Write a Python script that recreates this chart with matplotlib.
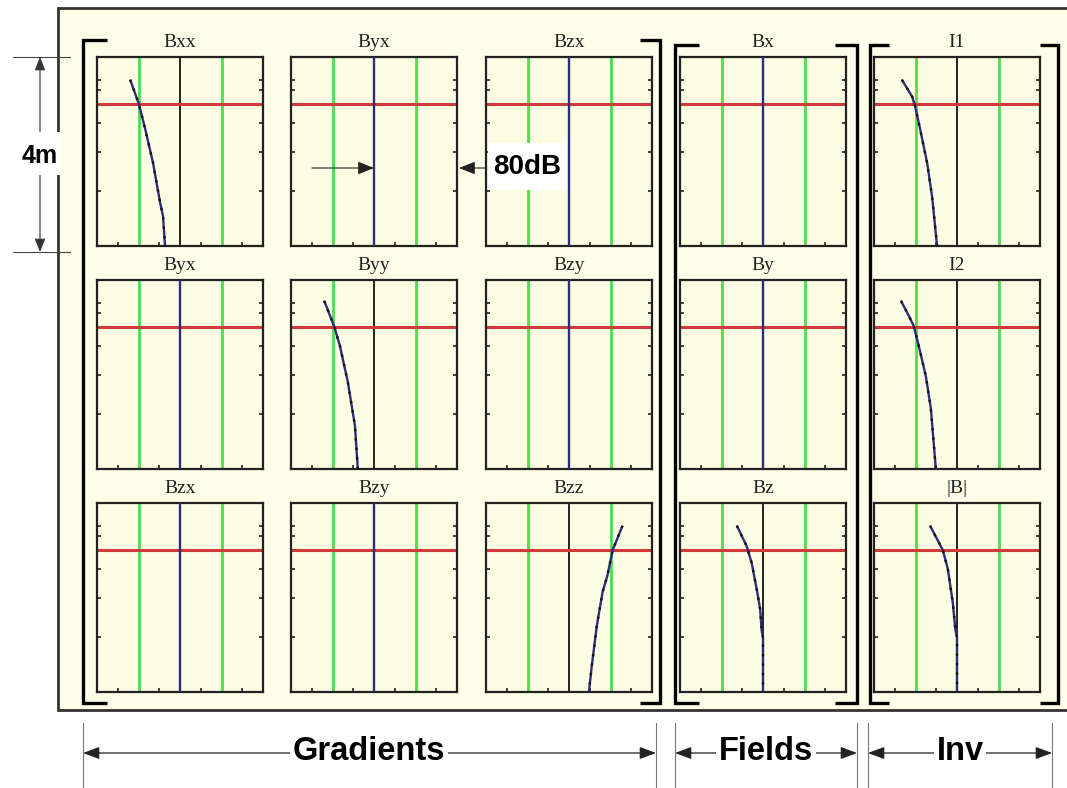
import matplotlib
matplotlib.use("Agg")
import matplotlib.pyplot as plt
from matplotlib.patches import Rectangle

# ---------------- data ----------------
titles_row1 = ["Bxx", "Byx", "Bzx", "Bx", "I1"]
titles_row2 = ["Byx", "Byy", "Bzy", "By", "I2"]
titles_row3 = ["Bzx", "Bzy", "Bzz", "Bz", "|B|"]

group_labels = ["Gradients", "Fields", "Inv"]
scale_label = "80dB"
depth_label = "4m"

# response curves (x: normalised response, -2..2 ; y: height fraction 0..1)
bxx_x = [-1.20, -0.99, -0.84, -0.65, -0.48, -0.41, -0.36]
bxx_y = [0.88, 0.75, 0.62, 0.44, 0.23, 0.16, 0.0]
byy_x = [-1.20, -0.96, -0.82, -0.63, -0.46, -0.39]
byy_y = [0.89, 0.755, 0.65, 0.46, 0.23, 0.0]
bzz_x = [1.29, 1.05, 0.93, 0.81, 0.67, 0.55, 0.48]
bzz_y = [0.88, 0.75, 0.62, 0.53, 0.35, 0.14, 0.0]
bz_x = [-0.63, -0.39, -0.27, -0.14, -0.07, -0.03, 0.0, 0.0]
bz_y = [0.88, 0.77, 0.68, 0.53, 0.44, 0.32, 0.29, 0.0]
bmag_x = [-0.65, -0.34, -0.22, -0.10, -0.04, 0.0, 0.0]
bmag_y = [0.88, 0.75, 0.65, 0.47, 0.33, 0.29, 0.0]
i1_x = [-1.33, -1.08, -1.01, -0.89, -0.72, -0.60, -0.48]
i1_y = [0.88, 0.79, 0.74, 0.62, 0.44, 0.26, 0.0]
i2_x = [-1.35, -1.16, -1.04, -0.92, -0.75, -0.63, -0.51]
i2_y = [0.89, 0.81, 0.755, 0.65, 0.49, 0.32, 0.0]
zero_x = [0.0, 0.0]
zero_y = [0.0, 1.0]

threshold_levels = [-1.0, 1.0]      # green lines
red_level = 0.75                    # red line
ytick_vals = [0.29, 0.50, 0.65, 0.825, 0.88]
xtick_vals = [-1.5, -0.5, 0.5, 1.5]

curves = [
    [(bxx_x, bxx_y), (zero_x, zero_y), (zero_x, zero_y), (zero_x, zero_y), (i1_x, i1_y)],
    [(zero_x, zero_y), (byy_x, byy_y), (zero_x, zero_y), (zero_x, zero_y), (i2_x, i2_y)],
    [(zero_x, zero_y), (zero_x, zero_y), (bzz_x, bzz_y), (bz_x, bz_y), (bmag_x, bmag_y)],
]
titles = [titles_row1, titles_row2, titles_row3]

# ---------------- layout (pixels) ----------------
W, H = 1067, 788
col_left = [97, 291, 486, 680, 874]
row_top = [57, 280, 503]
pw, ph = 166, 189

fig = plt.figure(figsize=(W / 100, H / 100), dpi=100)
fig.patch.set_facecolor("white")

bg = fig.add_axes([0, 0, 1, 1], zorder=0)
bg.set_xlim(0, W); bg.set_ylim(H, 0); bg.axis("off")
fg = fig.add_axes([0, 0, 1, 1], zorder=10)
fg.set_xlim(0, W); fg.set_ylim(H, 0); fg.axis("off")
fg.patch.set_alpha(0)

# outer frame
bg.add_patch(Rectangle((58, 8), 1100, 702, facecolor="#fefee9", edgecolor="#333333", lw=2))

NAVY = "#2d2d78"
GREEN = "#4ddd4d"
RED = "#d03a3a"

for r in range(3):
    for c in range(5):
        L, T = col_left[c], row_top[r]
        ax = fig.add_axes([L / W, 1 - (T + ph) / H, pw / W, ph / H], zorder=5)
        ax.set_facecolor("#fdfde4")
        ax.set_xlim(-2, 2); ax.set_ylim(0, 1)
        for s in ax.spines.values():
            s.set_linewidth(1.6); s.set_color("#222222")
        ax.set_xticks(xtick_vals); ax.set_yticks(ytick_vals)
        ax.tick_params(axis="both", direction="in", length=3, width=1.2, color="#222222",
                       left=True, right=True, bottom=True, top=False,
                       labelleft=False, labelbottom=False)
        for g in threshold_levels:
            ax.axvline(g, color=GREEN, lw=2, zorder=1)
        ax.axvline(0, color="#222222", lw=1.4, zorder=1)
        ax.axhline(red_level, color=RED, lw=2.2, zorder=2)
        cx, cy = curves[r][c]
        ax.plot(cx, cy, color=NAVY, lw=1.7, zorder=3, solid_capstyle="butt")
        if cx is not zero_x:
            ax.plot(cx, cy, color="#111111", lw=1.7, ls=(0, (1, 3)), zorder=4)
        fg.text(L + pw / 2, T - 15, titles[r][c], ha="center", va="center",
                fontfamily="Liberation Serif", fontsize=14, color="#222222")

# brackets
def bracket(x, y0, y1, s):
    fg.plot([x + s, x, x, x + s], [y0, y0, y1, y1], color="black", lw=2.4,
            solid_joinstyle="miter", solid_capstyle="butt")

bracket(83, 40, 703, 24); bracket(660, 40, 703, -20)
bracket(675, 45, 703, 24); bracket(857, 45, 703, -22)
bracket(870, 45, 703, 19); bracket(1058, 45, 703, -18)

# 4m dimension
for yy in (57, 252):
    fg.plot([13, 70], [yy, yy], color="#444444", lw=0.8)
fg.annotate("", xy=(40, 57), xytext=(40, 252),
            arrowprops=dict(arrowstyle="<|-|>,head_length=0.45,head_width=0.18",
                            color="#333333", lw=0.8, mutation_scale=18, shrinkA=0, shrinkB=0))
fg.add_patch(Rectangle((15, 132), 46, 43, facecolor="white", edgecolor="none", zorder=3))
fg.text(40, 156, depth_label, ha="center", va="center", fontfamily="Liberation Sans",
        fontweight="bold", fontsize=18, color="black", zorder=4)

# 80dB scale
arrow80 = dict(arrowstyle="-|>,head_length=0.45,head_width=0.18", color="#222222",
               lw=0.8, mutation_scale=22, shrinkA=0, shrinkB=0)
fg.annotate("", xy=(374, 168), xytext=(312, 168), arrowprops=arrow80)
fg.annotate("", xy=(459, 168), xytext=(485, 168), arrowprops=arrow80)
fg.add_patch(Rectangle((488, 143), 78, 47, facecolor="white", edgecolor="none", zorder=3))
fg.text(527, 167, scale_label, ha="center", va="center", fontfamily="Liberation Sans",
        fontweight="bold", fontsize=20, color="black", zorder=4)

# bottom group dimensions
for xx in (83, 656, 675, 857, 868, 1052):
    fg.plot([xx, xx], [723, 790], color="#777777", lw=0.8)
spans = [(83, 656, 369), (675, 857, 766), (868, 1052, 960)]
for (a, b, mid), lab in zip(spans, group_labels):
    fg.annotate("", xy=(a, 753), xytext=(b, 753),
                arrowprops=dict(arrowstyle="<|-|>,head_length=0.4,head_width=0.15",
                                color="#222222", lw=0.9, mutation_scale=25,
                                shrinkA=0, shrinkB=0))
    fg.text(mid, 751, lab, ha="center", va="center", fontfamily="Liberation Sans",
            fontweight="bold", fontsize=23.5, color="black", zorder=4,
            bbox=dict(boxstyle="square,pad=0.08", facecolor="white", edgecolor="none"))

fig.savefig("out.png", dpi=100)
